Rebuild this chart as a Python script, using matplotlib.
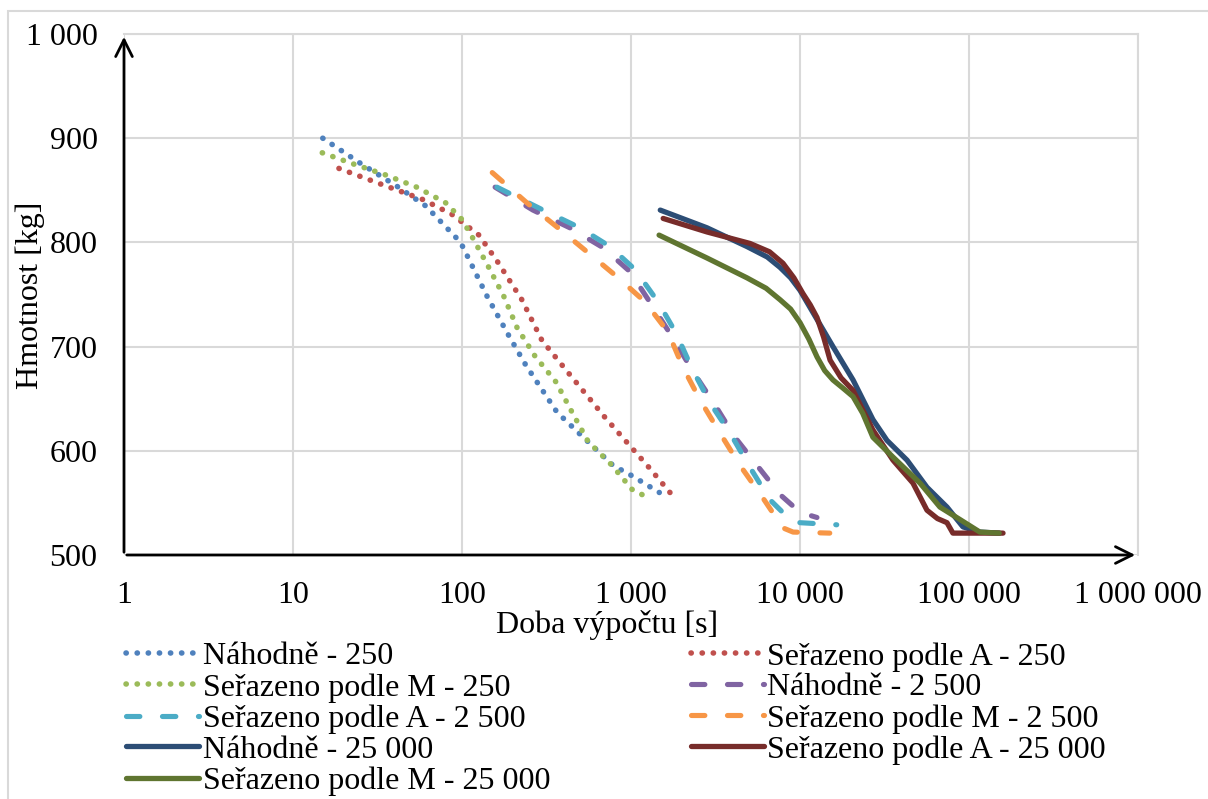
import matplotlib
matplotlib.use("Agg")
import matplotlib.pyplot as plt
from matplotlib.patches import Rectangle

plt.rcParams['font.family'] = ['Liberation Serif', 'DejaVu Serif']

# data (time [s], mass [kg])
rand_250_x = [15, 25, 42, 61, 93, 101, 141, 190, 239, 365, 499, 782, 1014, 1470]
rand_250_y = [900, 876, 853, 835, 804, 796, 748, 710, 682, 637, 616, 586, 576, 560]
a_250_x = [18.7, 33, 59, 87, 126, 163, 226, 297, 435, 702, 947, 1278, 1700]
a_250_y = [871, 856, 841, 827, 807, 781, 745, 706, 673, 632, 608, 584, 560]
m_250_x = [14.9, 23, 35, 54, 80, 100, 116, 144, 177, 212, 270, 360, 448, 557, 762, 1014, 1295]
m_250_y = [886, 875, 865, 853, 838, 822, 804, 776, 748, 718, 691, 666, 637, 609, 587, 563, 554]

rand_2500_x = [157, 263, 435, 683, 986, 1350, 1774, 2328, 3056, 4122, 5570, 7620, 10000, 12600]
rand_2500_y = [853, 831, 814, 795, 772, 738, 708, 676, 647, 613, 586, 558, 541, 536]
a_2500_x = [161, 302, 499, 751, 1056, 1444, 1846, 2296, 2934, 3856, 5060, 6640, 8730, 10000, 16500]
a_2500_y = [853, 831, 814, 796, 774, 743, 713, 679, 646, 617, 584, 553, 534, 531, 529]
m_2500_x = [151, 242, 370, 549, 827, 1210, 1655, 2031, 2559, 3362, 4415, 5960, 7930, 9100, 15000]
m_2500_y = [867, 838, 814, 791, 767, 743, 714, 680, 649, 617, 586, 556, 526, 522, 521]

rand_25000_x = [1490, 2818, 4855, 6400, 7620, 8800, 10000, 12620, 15670, 20600, 27000, 32700,
                43000, 56400, 74100, 92100, 116000, 151000]
rand_25000_y = [831, 814, 796, 786, 776, 766, 754, 726, 700, 668, 630, 610,
                591, 565, 546, 527, 522, 521]
a_25000_x = [1550, 2818, 5060, 6600, 7930, 9200, 10400, 11500, 12600, 13800, 15070, 17500,
             20600, 27000, 35500, 46600, 56400, 65000, 74100, 80300, 159000]
a_25000_y = [823, 810, 799, 791, 780, 766, 751, 740, 728, 709, 687, 670,
             658, 620, 591, 569, 543, 535, 531, 521, 521]
m_25000_x = [1466, 2818, 4855, 6300, 7620, 8800, 10000, 11300, 12620, 14000, 15670, 18000,
             20600, 23500, 27000, 35500, 51300, 67300, 88500, 116000, 151000]
m_25000_y = [807, 785, 766, 756, 745, 736, 723, 707, 690, 677, 668, 660,
             652, 636, 613, 594, 569, 546, 534, 522, 521]

labels = ["Náhodně - 250", "Seřazeno podle A - 250", "Seřazeno podle M - 250",
          "Náhodně - 2 500", "Seřazeno podle A - 2 500", "Seřazeno podle M - 2 500",
          "Náhodně - 25 000", "Seřazeno podle A - 25 000", "Seřazeno podle M - 25 000"]
colors = ["#4F81BD", "#C0504D", "#9BBB59", "#8064A2", "#4BACC6", "#F79646",
          "#2C4D75", "#772C2A", "#5F7530"]
series = [(rand_250_x, rand_250_y), (a_250_x, a_250_y), (m_250_x, m_250_y),
          (rand_2500_x, rand_2500_y), (a_2500_x, a_2500_y), (m_2500_x, m_2500_y),
          (rand_25000_x, rand_25000_y), (a_25000_x, a_25000_y), (m_25000_x, m_25000_y)]

x_ticks = [1, 10, 100, 1000, 10000, 100000, 1000000]
x_tick_labels = ["1", "10", "100", "1 000", "10 000", "100 000", "1 000 000"]
y_ticks = [500, 600, 700, 800, 900, 1000]
y_tick_labels = ["500", "600", "700", "800", "900", "1 000"]

FS = 23
W, H = 1208, 799
fig = plt.figure(figsize=(W / 100, H / 100), dpi=100)
fig.patches.append(Rectangle((8 / W, -0.1), 1.2, 1 - 11 / H + 0.1, transform=fig.transFigure,
                             fill=False, edgecolor="#d9d9d9", lw=1.5))
ax = fig.add_axes([124 / W, 1 - 555 / H, (1138 - 124) / W, (555 - 34) / H])

handles = []
for i, ((xs, ys), lab, c) in enumerate(zip(series, labels, colors)):
    if i < 3:
        ls, lw = (0, (0.05, 1.95)), 4.0
    elif i < 6:
        ls, lw = (0, (2.6, 4.4)), 3.7
    else:
        ls, lw = "-", 3.8
    ln, = ax.plot(xs, ys, color=c, lw=lw, linestyle=ls, label=lab,
                  dash_capstyle="round", solid_capstyle="round", solid_joinstyle="round")
    handles.append(ln)

ax.set_xscale("log")
ax.set_xlim(1, 1000000)
ax.set_ylim(500, 1000)
ax.set_xticks(x_ticks)
ax.set_xticklabels(x_tick_labels)
ax.set_yticks(y_ticks)
ax.set_yticklabels(y_tick_labels)
ax.minorticks_off()
ax.tick_params(length=0, labelsize=FS)
ax.tick_params(axis="x", pad=19)
ax.tick_params(axis="y", pad=19)
ax.grid(True, color="#d9d9d9", lw=1.5)
ax.set_axisbelow(True)
for s in ["top", "right"]:
    ax.spines[s].set_color("#d9d9d9")
    ax.spines[s].set_linewidth(1.5)
for s in ["left", "bottom"]:
    ax.spines[s].set_visible(False)

# arrow axes
ax.annotate("", xy=(0, 1.0), xytext=(0, 0), xycoords="axes fraction",
            arrowprops=dict(arrowstyle="->", color="black", lw=2, mutation_scale=30))
ax.annotate("", xy=(1.0, 0), xytext=(0, 0), xycoords="axes fraction",
            arrowprops=dict(arrowstyle="->", color="black", lw=2, mutation_scale=30))

fig.text(607 / W, 1 - 625 / H, "Doba výpočtu [s]", fontsize=FS, ha="center", va="center")
fig.text(30 / W, 1 - 295 / H, "Hmotnost [kg]", fontsize=FS, ha="center", va="center",
         rotation=90)

# legend row-wise order like the original
order = [0, 2, 4, 6, 8, 1, 3, 5, 7]
fig.legend([handles[i] for i in order], [labels[i] for i in order], ncol=2,
           loc="upper left", bbox_to_anchor=(126 / W, 1 - 642 / H), frameon=False,
           fontsize=FS, handlelength=2.3, handletextpad=0.1, labelspacing=0.05,
           borderpad=0, borderaxespad=0, columnspacing=4.4)

fig.savefig("out.png", dpi=100)
